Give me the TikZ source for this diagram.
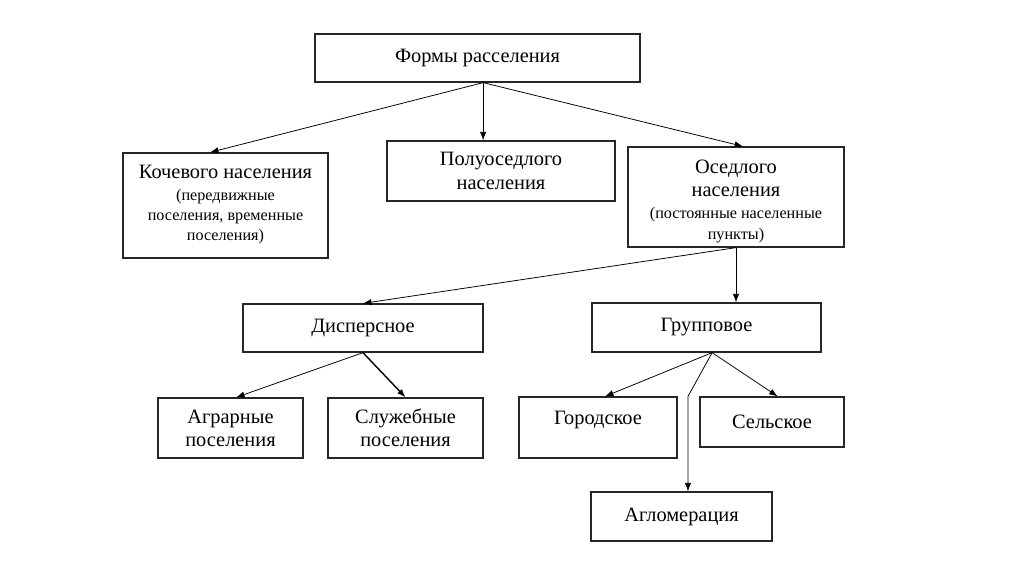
\documentclass[tikz,border=0pt]{standalone}
\usepackage{fontspec}
\setmainfont{Liberation Serif}
\usetikzlibrary{arrows.meta}

\newcommand{\mainfont}{\fontsize{14.5}{16.5}\selectfont}
\newcommand{\notefont}{\fontsize{11.5}{14}\selectfont}
\newdimen\px \px=0.025cm

\begin{document}
\begin{tikzpicture}[x=0.025cm,y=-0.025cm,
  box/.style={draw=black!85,line width=0.9pt,align=center,inner sep=0pt,font=\mainfont},
  arr/.style={-{Latex[length=6pt,width=4.5pt]},line width=0.55pt},
  thickarr/.style={arr,line width=1pt}]
\useasboundingbox (0,0) rectangle (1024,574);
% boxes
\node[box,minimum width=325\px,minimum height=48\px] (forms) at (477.5,58) {Формы расселения};
\node[box,minimum width=205\px,minimum height=105\px] (nomad) at (225.5,205.5)
  {Кочевого населения\\[-1pt] \notefont(передвижные\\[-2.3pt] \notefont поселения, временные\\[-2.3pt] \notefont поселения)\\[-13pt]\mbox{}};
\node[box,minimum width=228\px,minimum height=60\px] (semi) at (501,171) {Полуоседлого\\ населения};
\node[box,minimum width=216\px,minimum height=100\px] (settled) at (736,197)
  {Оседлого\\ населения\\[-0.5pt] \notefont(постоянные населенные\\[-1.8pt] \notefont пункты)\\[-20pt]\mbox{}};
\node[box,minimum width=240\px,minimum height=48\px] (disp) at (363,328) {Дисперсное};
\node[box,minimum width=229\px,minimum height=49\px] (group) at (706.5,327.5) {Групповое};
\node[box,minimum width=145\px,minimum height=60\px] (agr) at (230.5,428) {Аграрные\\ поселения};
\node[box,minimum width=155\px,minimum height=60\px] (serv) at (405.5,428) {Служебные\\ поселения};
\node[box,minimum width=158\px,minimum height=61\px] (urban) at (598,427.5) {Городское\\[-8pt]\strut};
\node[box,minimum width=144\px,minimum height=50\px] (rural) at (772,422) {Сельское};
\node[box,minimum width=181\px,minimum height=49\px] (aggl) at (681.5,516.5) {Агломерация};
% connectors
\coordinate (fs) at ([xshift=4pt]forms.south);
\coordinate (gs) at ([xshift=4pt]group.south);
\coordinate (ag) at ([xshift=4.6pt]aggl.north);
\draw[arr] (fs) -- ([xshift=-11pt]nomad.north);
\draw[arr] (fs) -- (fs |- semi.north);
\draw[arr] (fs) -- ([xshift=5pt]settled.north);
\draw[arr] (settled.south) -- (disp.north);
\draw[arr] (settled.south) -- (settled.south |- group.north);
\draw[arr] (disp.south) -- ([xshift=4pt]agr.north);
\draw[thickarr] (disp.south) -- (serv.north);
\draw[arr] (gs) -- ([xshift=5pt]urban.north);
\draw[arr] (gs) -- ([xshift=4pt]rural.north);
\draw[arr] (gs) -- (ag |- urban.north) -- (ag);
\end{tikzpicture}
\end{document}
